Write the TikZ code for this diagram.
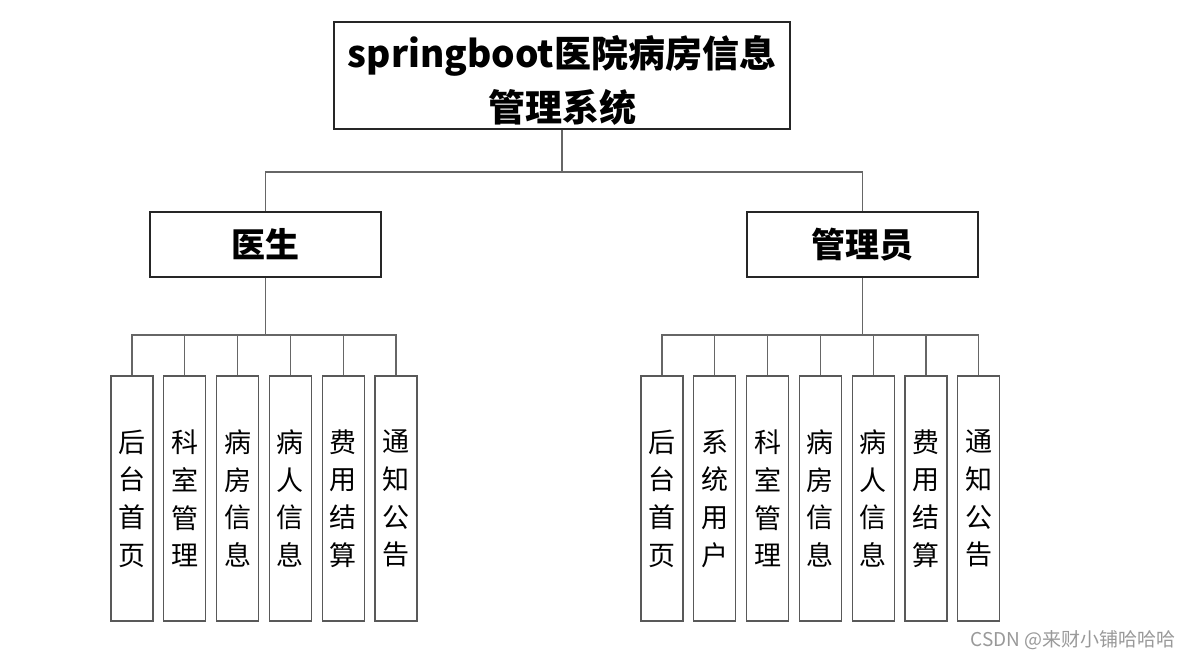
\documentclass[tikz,border=0pt]{standalone}
\usepackage{fontspec}
\setmainfont{Noto Sans CJK SC}
\usepackage{tikz}
\usetikzlibrary{positioning}
\tikzset{
  %% System title box
  sysbox/.style={
    rectangle, draw=black!85, line width=1.6pt,
    minimum width=456pt, minimum height=107pt,
    align=center, inner sep=0pt,
    font=\fontsize{37}{54}\selectfont\bfseries},
  %% Role boxes
  rolebox/.style={
    rectangle, draw=black!85, line width=1.6pt,
    minimum width=231pt, minimum height=65pt,
    align=center, inner sep=0pt,
    font=\fontsize{34}{40}\selectfont\bfseries},
  %% Function boxes (vertical text)
  funcbox/.style={
    rectangle, draw=black!65, line width=1.3pt,
    minimum width=42pt, minimum height=245pt,
    align=center, inner sep=0pt,
    font=\fontsize{27}{37.7}\selectfont},
  %% Connectors
  conn/.style={draw=black!60, line width=1.3pt},
}
\begin{document}
\begin{tikzpicture}[x=1pt, y=-1pt, node distance=9.5pt]
  \useasboundingbox[fill=white] (0,0) rectangle (1191,659);

  %% Root
  \node[sysbox] (sys) at (562,75.5) {\rule{0pt}{42pt}springboot医院病房信息\\管理系统};

  %% Roles
  \node[rolebox] (doc) at (265.5,244.5) {医生};
  \node[rolebox] (adm) at (862.5,244.5) {管理员};

  \coordinate (j0) at (562,172);
  \draw[conn] (sys.south) -- (j0);
  \draw[conn] (doc.north) |- (j0);
  \draw[conn] (adm.north) |- (j0);

  %% Doctor functions
  \node[funcbox] (d1) at (132,498.5) {后\\台\\首\\页};
  \node[funcbox, right=of d1] (d2) {科\\室\\管\\理};
  \node[funcbox, right=of d2] (d3) {病\\房\\信\\息};
  \node[funcbox, right=of d3] (d4) {病\\人\\信\\息};
  \node[funcbox, right=of d4] (d5) {费\\用\\结\\算};
  \node[funcbox, right=of d5] (d6) {通\\知\\公\\告};

  \coordinate (bd) at (265.5,335);
  \draw[conn] (doc.south) -- (bd);
  \draw[conn] (bd) -| (d1.north);
  \draw[conn] (bd) -| (d2.north);
  \draw[conn] (bd) -| (d3.north);
  \draw[conn] (bd) -| (d4.north);
  \draw[conn] (bd) -| (d5.north);
  \draw[conn] (bd) -| (d6.north);

  %% Admin functions
  \node[funcbox] (a1) at (662,498.5) {后\\台\\首\\页};
  \node[funcbox, right=of a1] (a2) {系\\统\\用\\户};
  \node[funcbox, right=of a2] (a3) {科\\室\\管\\理};
  \node[funcbox, right=of a3] (a4) {病\\房\\信\\息};
  \node[funcbox, right=of a4] (a5) {病\\人\\信\\息};
  \node[funcbox, right=of a5] (a6) {费\\用\\结\\算};
  \node[funcbox, right=of a6] (a7) {通\\知\\公\\告};

  \coordinate (ba) at (862.5,335);
  \draw[conn] (adm.south) -- (ba);
  \draw[conn] (ba) -| (a1.north);
  \draw[conn] (ba) -| (a2.north);
  \draw[conn] (ba) -| (a3.north);
  \draw[conn] (ba) -| (a4.north);
  \draw[conn] (ba) -| (a5.north);
  \draw[conn] (ba) -| (a6.north);
  \draw[conn] (ba) -| (a7.north);

  %% Watermark
  \node[anchor=east, text=black!40, inner sep=0pt,
        font=\fontsize{19}{22}\selectfont] (wm) at (1176,640) {CSDN @来财小铺哈哈哈};

\end{tikzpicture}
\end{document}
